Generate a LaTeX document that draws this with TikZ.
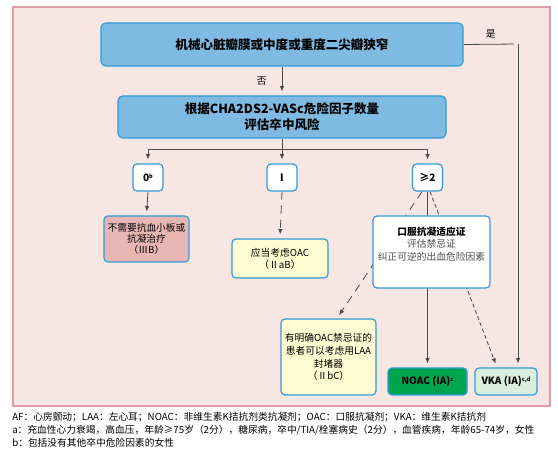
\documentclass[tikz,border=0pt]{standalone}
\usepackage{fontspec}
\setmainfont{Noto Sans CJK SC}
\usepackage{tikz}
\usetikzlibrary{arrows.meta,calc,positioning,backgrounds}

\definecolor{panelfill}{HTML}{F8E6E3}
\definecolor{panelline}{HTML}{DE9CA8}
\definecolor{boxline}{HTML}{2F9BDA}
\definecolor{mainfill}{HTML}{7FBAE2}
\definecolor{nofill}{HTML}{E8B7B4}
\definecolor{oacfill}{HTML}{FFFCD3}
\definecolor{noacfill}{HTML}{00A54F}
\definecolor{vkafill}{HTML}{DAEEDD}
\definecolor{flowline}{HTML}{4A4A4A}

\newcommand{\smallsup}[1]{\raisebox{0.55ex}{\fontsize{4.2}{5}\selectfont #1}}

\begin{document}
\begin{tikzpicture}[
    % GLOBAL CFG
    x=0.75pt, y=-0.75pt,
    font=\fontsize{7.3}{9.5}\selectfont,
    >={Latex[length=4pt,width=3.4pt]},
    % Styles
    mainbox/.style={% For the two blue boxes at the top
        rectangle,
        rounded corners=3.5pt,
        draw=boxline,
        line width=0.9pt,
        fill=mainfill,
        align=center,
        font=\fontsize{9.4}{12}\selectfont\bfseries,
        },
    score/.style={% For the score boxes
        rectangle,
        rounded corners=3pt,
        draw=boxline,
        line width=0.9pt,
        fill=white,
        minimum width=22.5pt,
        minimum height=20.25pt,
        inner sep=1pt,
        font=\fontsize{7.6}{9}\selectfont\bfseries,
        },
    advice/.style={% For the boxes with a recommendation
        rectangle,
        rounded corners=3pt,
        draw=boxline,
        line width=0.9pt,
        align=center,
        inner sep=1pt,
        },
    drug/.style={% For the two drug boxes at the bottom
        advice,
        minimum height=20.25pt,
        font=\fontsize{7.5}{9}\selectfont\bfseries,
        },
    legend/.style={% For the notes below the panel
        anchor=west,
        inner sep=0pt,
        font=\fontsize{7.3}{9}\selectfont,
        },
    ArrowS/.style={% Solid connectors
        draw=flowline,
        line width=0.6pt,
        shorten >=3pt,
        },
    ArrowD/.style={% Dashed connectors
        ArrowS,
        dash pattern=on 6pt off 4.5pt,
        },
    ArrowF/.style={% Fine dashed connectors
        ArrowS,
        dash pattern=on 3pt off 2pt,
        },
    ]

\useasboundingbox (0,0) rectangle (558,449);

% Draw the panel
\begin{scope}[on background layer]
    \filldraw [fill=panelfill, draw=panelline, line width=0.8pt] (13,7) rectangle (550,406);
\end{scope}

% Draw the question boxes named q1 and risk
\node [mainbox, minimum width=271.5pt, minimum height=32.25pt] (q1) at (282,44.5) {机械心脏瓣膜或中度或重度二尖瓣狭窄};
\node [mainbox, minimum width=246pt, minimum height=31.5pt] (risk) at (282,117) {根据CHA2DS2-VASc危险因子数量\\评估卒中风险};

% Draw the score boxes named s#
\node [score] (s0) at (148,177.5) {0\smallsup{b}};
\node [score] (s1) at (282,177.5) {I};
\node [score] (s2) at (427.5,177.5) {≥2};

% Draw the recommendations
\node [advice, fill=nofill, minimum width=63.75pt, minimum height=34.5pt,
       font=\fontsize{7.3}{8.4}\selectfont] (none) at (146.5,239) {不需要抗血小板或\\抗凝治疗\\（ⅢB）};
\node [advice, fill=oacfill, minimum width=72pt, minimum height=29.25pt,
       font=\fontsize{7.3}{9}\selectfont] (oac) at (280,258.5) {应当考虑OAC\\（ⅡaB）};
\node [advice, fill=white, minimum width=87.75pt, minimum height=54pt,
       font=\fontsize{7.3}{9.5}\selectfont] (indic) at (431.5,252) {\textbf{口服抗凝适应证}\\\textcolor{black!70}{评估禁忌证}\\\textcolor{black!70}{纠正可逆的出血危险因素}\\[3pt]};
\node [advice, fill=oacfill, minimum width=71.25pt, minimum height=57pt,
       font=\fontsize{7.3}{9.6}\selectfont] (laa) at (328.5,357) {有明确OAC禁忌证的\\患者可以考虑用LAA\\封堵器\\（ⅡbC）};

% Draw the drugs
\node [drug, fill=noacfill, minimum width=59.25pt] (noac) at (427.5,381.5) {NOAC (IA)\smallsup{c}};
\node [drug, fill=vkafill, minimum width=46.5pt] (vka) at (506,381.5) {VKA (IA)\smallsup{c,d}};

% Draw the notes
\node [legend] (note1) at (12,417) {AF：心房颤动；LAA：左心耳；NOAC：非维生素K拮抗剂类抗凝剂；OAC：口服抗凝剂；VKA：维生素K拮抗剂};
\node [legend] (note2) at (12,430) {a：充血性心力衰竭，高血压，年龄≥75岁（2分），糖尿病，卒中/TIA/栓塞病史（2分），血管疾病，年龄65-74岁，女性};
\node [legend] (note3) at (12,443) {b：包括没有其他卒中危险因素的女性};

% Start connecting all.
\coordinate (yes) at (518,44);
\coordinate (br) at ($(risk.south)+(0,11)$);

\begin{scope}[on background layer]
    \draw [ArrowS] (q1.east) -- (yes) node[midway, above=1pt] {是};
    \draw [->, ArrowS] (yes) -- (yes |- vka.north);
    \draw [->, ArrowS] (q1.south) -- (risk.north) node[midway, left=8pt] {否};

    % Branches
    \draw [ArrowS, shorten >=0pt] (risk.south) -- (br);
    \draw [->, ArrowS] (br) -| (s0.north);
    \draw [->, ArrowS] (br) -- (s1.north);
    \draw [->, ArrowS] (br) -| (s2.north);

    % Recommendations
    \draw [->, ArrowS] (s0.south) -- (none.north);
    \draw [->, ArrowD] (s1.south) -- (oac.north);
    \draw [->, ArrowS] (s2.south) -- (noac.north);
    \draw [->, ArrowD] ($(s2.south)+(-5.5,0)$) -- ($(laa.north)+(8.5,0)$);
    \draw [->, ArrowF] ($(s2.south)+(2.5,0)$) -- ($(vka.north)+(-9,0)$);
\end{scope}

\end{tikzpicture}
\end{document}
